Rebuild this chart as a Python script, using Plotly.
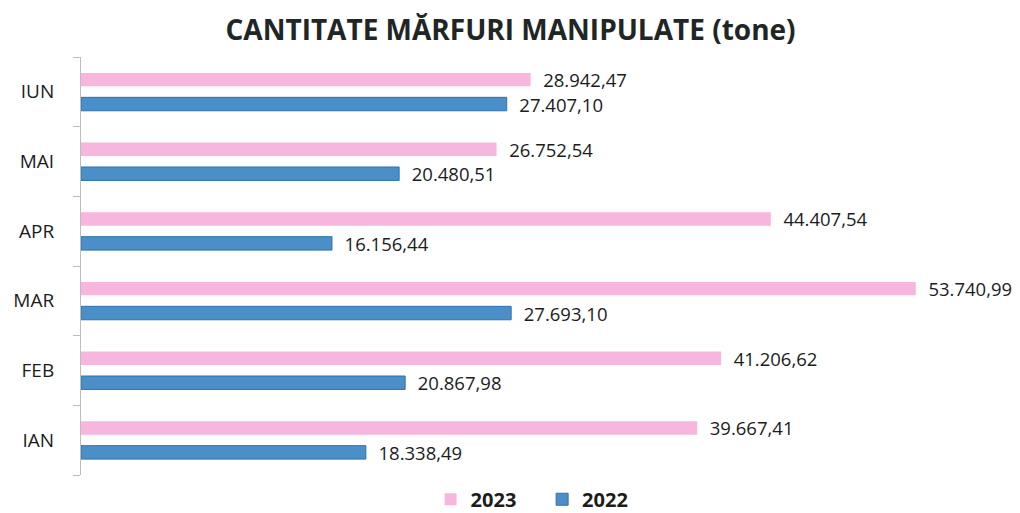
import plotly.graph_objects as go

months = ["IAN", "FEB", "MAR", "APR", "MAI", "IUN"]
v2023 = [39667.41, 41206.62, 53740.99, 44407.54, 26752.54, 28942.47]
v2022 = [18338.49, 20867.98, 27693.10, 16156.44, 20480.51, 27407.10]
title_text = "CANTITATE MĂRFURI MANIPULATE (tone)"

PINK = "#F7B6DE"
BLUE = "#4A8FC7"
TXT = "#1c1c1c"
FONT = "Open Sans"

# the page body has an 8px margin, so the figure is sized/offset to compensate
fig = go.Figure()
fig.add_trace(go.Bar(
    y=months, x=v2022, name="2022", orientation="h",
    marker=dict(color=BLUE, line=dict(color="#2F72AA", width=1)),
    texttemplate="\u00a0\u00a0%{x:,.2f}", textposition="outside",
    constraintext="none",
    textfont=dict(family=FONT, size=18.5, color=TXT), cliponaxis=False,
))
fig.add_trace(go.Bar(
    y=months, x=v2023, name="2023\u00a0\u00a0\u00a0\u00a0", orientation="h",
    marker=dict(color=PINK, line=dict(width=0)),
    texttemplate="\u00a0\u00a0%{x:,.2f}", textposition="outside",
    constraintext="none",
    textfont=dict(family=FONT, size=18.5, color=TXT), cliponaxis=False,
))

fig.update_layout(
    width=1012, height=505,
    margin=dict(l=73, r=7, t=49, b=38, autoexpand=False),
    paper_bgcolor="white", plot_bgcolor="white",
    separators=",.",
    barmode="group", bargap=0.298, bargroupgap=0.45,
    title=dict(text=title_text, x=0.4966, xanchor="center", y=0.956, yanchor="middle",
               font=dict(family=FONT, size=28, color="#1f2626", weight="bold")),
    showlegend=True,
    legend=dict(orientation="h", traceorder="reversed", x=0.484, xanchor="center",
                y=-0.058, yanchor="middle",
                font=dict(family=FONT, size=20, color=TXT, weight="bold"),
                itemwidth=30),
    xaxis=dict(range=[0, 60000], visible=False, showgrid=False, zeroline=False),
    yaxis=dict(type="category", showline=True, linecolor="#BDBDBD", linewidth=1,
               ticks="outside", tickson="boundaries", ticklen=7, tickcolor="#BDBDBD",
               tickfont=dict(family=FONT, size=19, color=TXT), automargin=False,
               ticklabelstandoff=22, showgrid=False, zeroline=False),
    font=dict(family=FONT, color=TXT),
)

fig.write_html("out.html")
